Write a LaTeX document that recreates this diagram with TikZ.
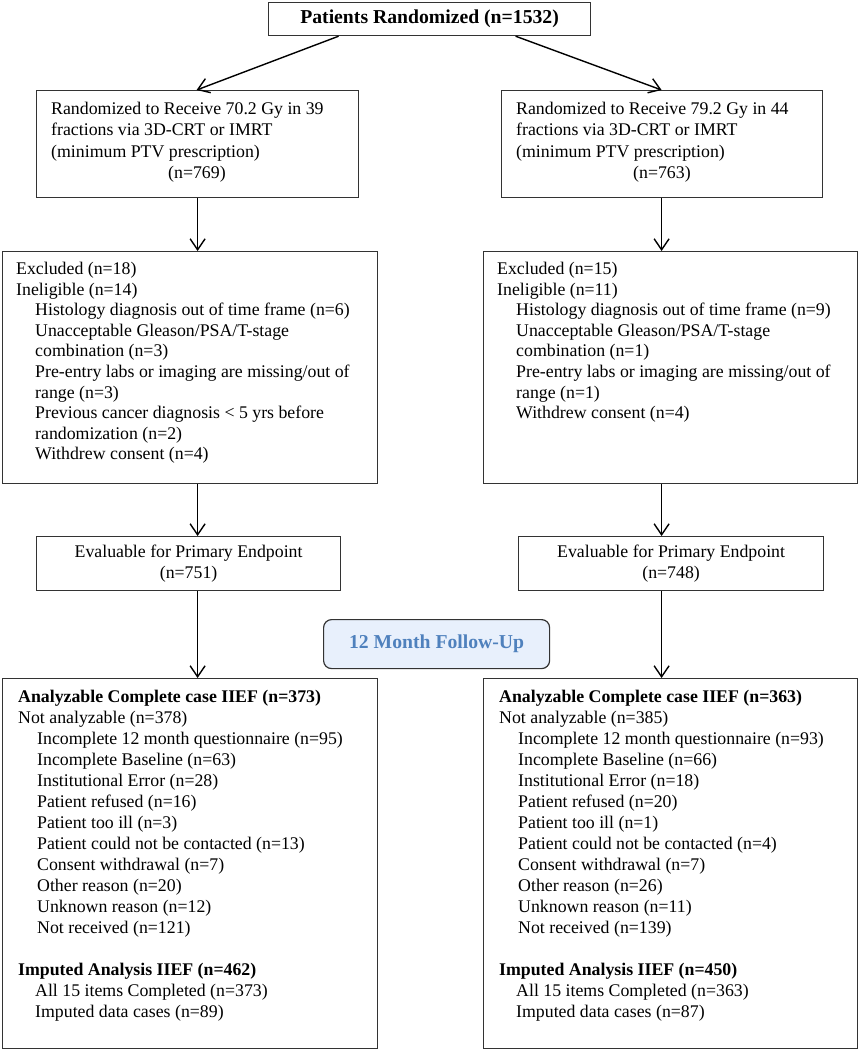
\documentclass[tikz,border=0pt]{standalone}
\usepackage{fontspec}
\setmainfont{Liberation Serif}
\usetikzlibrary{arrows.meta}
\definecolor{fublue}{HTML}{4F81BD}
\definecolor{fufill}{HTML}{E8F0FC}
\newcommand{\ind}{\hspace*{19pt}}
\begin{document}
\begin{tikzpicture}[x=1pt,y=-1pt,
  box/.style={draw=black!80,line width=1.2pt,anchor=north west,inner sep=0pt},
  txt/.style={anchor=north west,inner sep=0pt,align=left,font=\fontsize{17.8}{20.6}\selectfont},
  ctxt/.style={align=center,font=\fontsize{17.8}{20.2}\selectfont},
  arr/.style={line width=1.4pt,-{Straight Barb[length=11pt,width=15pt,line width=1.4pt]}}]
\useasboundingbox (0,0) rectangle (859,1050);

% top
\node[box,minimum width=322pt,minimum height=33pt,font=\fontsize{19.7}{23}\selectfont\bfseries] (top) at (268,2) {Patients Randomized (n=1532)};

% row 1
\node[box,minimum width=322pt,minimum height=107pt] (b1l) at (36,90) {};
\node[box,minimum width=321pt,minimum height=107pt] (b1r) at (501,90) {};
\node[txt,font=\fontsize{17.8}{21.3}\selectfont] (t1l) at (51,102) {Randomized to Receive 70.2 Gy in 39\\fractions via 3D-CRT or IMRT\\(minimum PTV prescription)\\\hspace*{117pt}(n=769)};
\node[txt,font=\fontsize{17.8}{21.3}\selectfont] (t1r) at (516,102) {Randomized to Receive 79.2 Gy in 44\\fractions via 3D-CRT or IMRT\\(minimum PTV prescription)\\\hspace*{117pt}(n=763)};

% row 2
\node[box,minimum width=375pt,minimum height=232pt] (b2l) at (2,251) {};
\node[box,minimum width=374pt,minimum height=232pt] (b2r) at (483,251) {};
\node[txt] (t2l) at (16,262) {Excluded (n=18)\\Ineligible (n=14)\\
\ind Histology diagnosis out of time frame (n=6)\\
\ind Unacceptable Gleason/PSA/T-stage\\
\ind combination (n=3)\\
\ind Pre-entry labs or imaging are missing/out of\\
\ind range (n=3)\\
\ind Previous cancer diagnosis < 5 yrs before\\
\ind randomization (n=2)\\
\ind Withdrew consent (n=4)};
\node[txt] (t2r) at (497,262) {Excluded (n=15)\\Ineligible (n=11)\\
\ind Histology diagnosis out of time frame (n=9)\\
\ind Unacceptable Gleason/PSA/T-stage\\
\ind combination (n=1)\\
\ind Pre-entry labs or imaging are missing/out of\\
\ind range (n=1)\\
\ind Withdrew consent (n=4)};

% row 3
\node[box,minimum width=304pt,minimum height=54pt,ctxt] (b3l) at (36,536) {Evaluable for Primary Endpoint\\(n=751)};
\node[box,minimum width=305pt,minimum height=54pt,ctxt] (b3r) at (518,536) {Evaluable for Primary Endpoint\\(n=748)};

% follow-up label
\node[box,minimum width=226pt,minimum height=49pt,rounded corners=8pt,fill=fufill,text=fublue,font=\fontsize{19.7}{23}\selectfont\bfseries] (fu) at (323,619) {12 Month Follow-Up};

% row 4
\node[box,minimum width=375pt,minimum height=370pt] (b4l) at (2,678) {};
\node[box,minimum width=374pt,minimum height=370pt] (b4r) at (483,678) {};
\node[txt,font=\fontsize{17.8}{21}\selectfont] (t4l) at (18,690) {\textbf{Analyzable Complete case IIEF (n=373)}\\
Not analyzable (n=378)\\
\ind Incomplete 12 month questionnaire (n=95)\\
\ind Incomplete Baseline (n=63)\\
\ind Institutional Error (n=28)\\
\ind Patient refused (n=16)\\
\ind Patient too ill (n=3)\\
\ind Patient could not be contacted (n=13)\\
\ind Consent withdrawal (n=7)\\
\ind Other reason (n=20)\\
\ind Unknown reason (n=12)\\
\ind Not received (n=121)\\[21pt]
\textbf{Imputed Analysis IIEF (n=462)}\\
\hspace*{17pt}All 15 items Completed (n=373)\\
\hspace*{17pt}Imputed data cases (n=89)};
\node[txt,font=\fontsize{17.8}{21}\selectfont] (t4r) at (499,690) {\textbf{Analyzable Complete case IIEF (n=363)}\\
Not analyzable (n=385)\\
\ind Incomplete 12 month questionnaire (n=93)\\
\ind Incomplete Baseline (n=66)\\
\ind Institutional Error (n=18)\\
\ind Patient refused (n=20)\\
\ind Patient too ill (n=1)\\
\ind Patient could not be contacted (n=4)\\
\ind Consent withdrawal (n=7)\\
\ind Other reason (n=26)\\
\ind Unknown reason (n=11)\\
\ind Not received (n=139)\\[21pt]
\textbf{Imputed Analysis IIEF (n=450)}\\
\hspace*{17pt}All 15 items Completed (n=363)\\
\hspace*{17pt}Imputed data cases (n=87)};

% connectors
\coordinate (rc) at ([xshift=-0.5pt]b1r.south);
\draw[arr] ([xshift=-91pt]top.south) -- ([xshift=-1pt]b1l.north);
\draw[arr] ([xshift=86pt]top.south) -- ([xshift=-0.5pt]b1r.north);
\draw[arr] (b1l.south) -- (b1l.south |- b2l.north);
\draw[arr] (rc) -- (rc |- b2r.north);
\draw[arr] (b1l.south |- b2l.south) -- (b1l.south |- b3l.north);
\draw[arr] (rc |- b2r.south) -- (rc |- b3r.north);
\draw[arr] (b1l.south |- b3l.south) -- (b1l.south |- b4l.north);
\draw[arr] (rc |- b3r.south) -- (rc |- b4r.north);
\end{tikzpicture}
\end{document}
